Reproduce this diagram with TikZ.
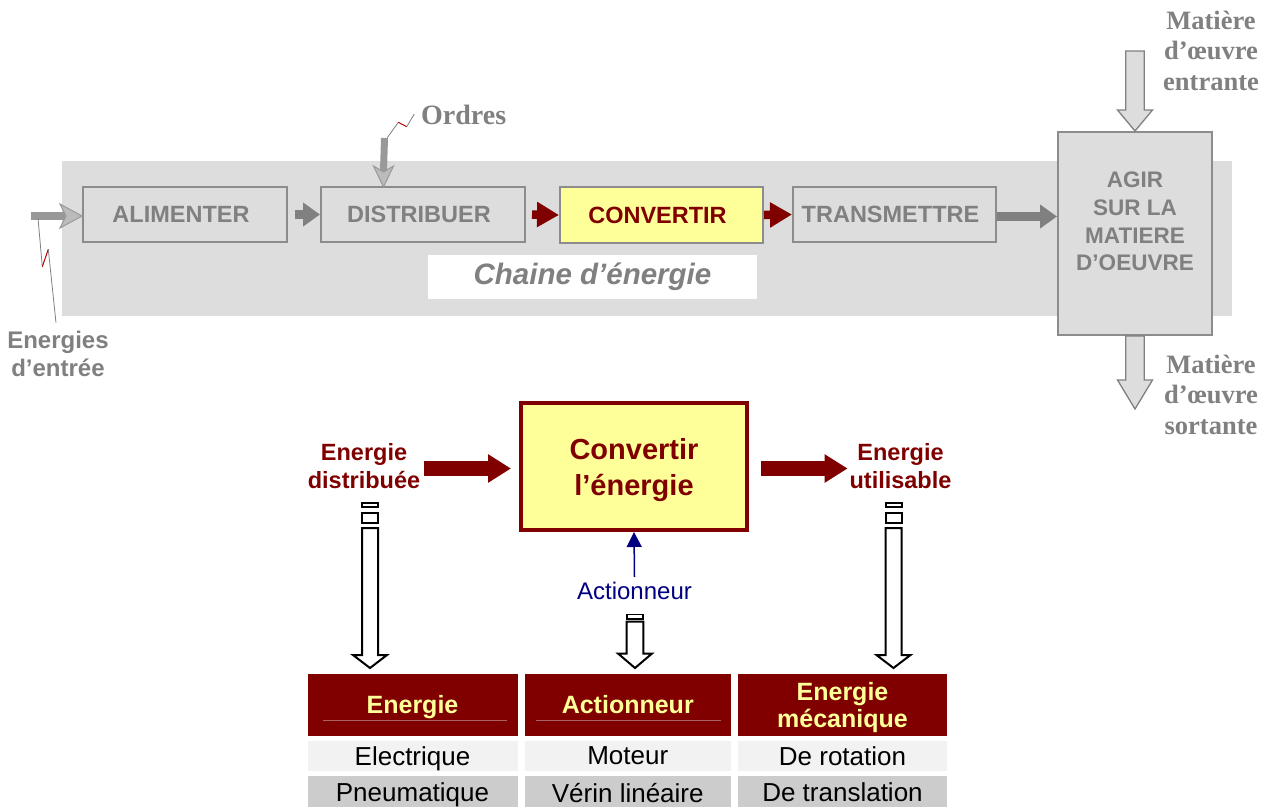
\documentclass[tikz,border=0pt]{standalone}
\usepackage{fontspec}
\setmainfont{Liberation Sans}
\newfontfamily\serifbf{Liberation Serif}
\usetikzlibrary{arrows.meta,calc}
\definecolor{bgc}{HTML}{DDDDDD}
\definecolor{txtgray}{HTML}{808080}
\definecolor{boxgray}{HTML}{8C8C8C}
\definecolor{dred}{HTML}{800000}
\definecolor{lyel}{HTML}{FFFF99}
\definecolor{navyc}{HTML}{000080}
\definecolor{row1c}{HTML}{F2F2F2}
\definecolor{row2c}{HTML}{CCCCCC}
\definecolor{headline}{HTML}{A86464}
\definecolor{arrgray}{HTML}{999999}
\definecolor{headgray}{HTML}{BBBBBB}
\definecolor{lred}{HTML}{B00000}
% hollow down arrow: #1 top-centre coordinate, #2 shaft half width, #3 shaft length, #4 head half width, #5 head length, #6 style
\newcommand\hollowdn[6]{%
  \draw[#6] (#1) ++({-#2},0) -- ++({2*#2},0) -- ++(0,#3) -- ++({#4-#2},0)
     -- ++({-#4},#5) -- ++({-#4},{-#5}) -- ++({#4-#2},0) -- cycle;}
\begin{document}
\begin{tikzpicture}[x=1pt,y=-1pt,
 chainbox/.style={draw=boxgray, line width=2pt, minimum width=204pt, minimum height=55pt, inner sep=0pt,
   font=\fontsize{23.5}{27}\selectfont\bfseries, text=txtgray, execute at end node={\hspace*{8pt}}},
 gtext/.style={text=txtgray, font=\fontsize{24}{28}\selectfont\bfseries, align=center, inner sep=0pt},
 stext/.style={text=txtgray, font=\fontsize{26.5}{30.5}\selectfont\serifbf\bfseries, align=center, inner sep=0pt},
 rtext/.style={text=dred, font=\fontsize{23.5}{28}\selectfont\bfseries, align=center, inner sep=0pt},
 garrow/.style={draw=txtgray, line width=9pt, -{Triangle[length=17pt,width=23pt]}},
 rarrow/.style={draw=dred, line width=8.5pt, -{Triangle[length=22pt,width=24pt]}},
 bigrarrow/.style={draw=dred, line width=15pt, -{Triangle[length=23pt,width=27pt]}},
 hollow/.style={draw=black, fill=white, line width=2pt, line join=miter},
 mhollow/.style={draw=txtgray, fill=bgc, line width=1.3pt, line join=miter},
 callout/.style={draw=txtgray, line width=0.8pt},
 callred/.style={draw=lred, line width=1pt},
 hdr/.style={fill=dred, inner sep=0pt, minimum height=61.7pt},
 hdrtxt/.style={text=lyel, font=\fontsize{25}{27.4}\selectfont\bfseries, align=center, inner sep=0pt, text depth=0pt},
 rowa/.style={fill=row1c, font=\fontsize{26}{30}\selectfont, inner sep=0pt, minimum height=30.3pt},
 rowb/.style={fill=row2c, font=\fontsize{26}{30}\selectfont, inner sep=0pt, minimum height=31pt},
 celltxt/.style={font=\fontsize{26}{30}\selectfont, inner sep=0pt, text depth=0pt},
]
\useasboundingbox (0,0) rectangle (1270,807);
% ---------- upper chain ----------
\fill[bgc] (62,161) rectangle (1232,316);
\node[fill=white, minimum width=329pt, minimum height=44pt, inner sep=0pt, text=txtgray,
      font=\fontsize{29.5}{32}\selectfont\bfseries\itshape] (chaine) at (592.5,277) {Chaine d’énergie};

\node[chainbox] (alim) at (185,214.5) {ALIMENTER};
\node[chainbox] (dist) at (423,214.5) {DISTRIBUER};
\node[chainbox, fill=lyel, text=dred, minimum width=203pt, minimum height=56pt] (conv) at (661.5,215) {CONVERTIR};
\node[chainbox, minimum width=203pt] (trans) at (894.5,214.5) {TRANSMETTRE};
\node[draw=boxgray, fill=bgc, line width=2pt, minimum width=154pt, minimum height=203pt, inner sep=0pt] (agir) at (1135,233.5) {};
\node[gtext, font=\fontsize{22.5}{27.7}\selectfont\bfseries] (agirtxt) at ($(agir.center)+(0,-12)$) {AGIR\\SUR LA\\MATIERE\\D’OEUVRE};

\draw[garrow] ($(alim.east)+(7,0)$) -- (dist.west);
\draw[rarrow] ($(dist.east)+(6,0)$) -- (conv.west);
\draw[rarrow] (conv.east) -- (trans.west);
\draw[garrow] ($(trans.east)+(0,2)$) -- ($(trans.east -| agir.west)+(0,2)$);

% input energy arrow
\coordinate (etip) at ($(alim.west)+(0,1.5)$);
\coordinate (ein) at (31,216);
\draw[draw=arrgray, line width=8pt] (ein) -- ($(etip)+(-14,0)$);
\draw[fill=headgray, draw=arrgray, line width=1pt, line join=miter]
  (etip) -- ++(-22,-12) -- ++(6,12) -- ++(-6,12) -- cycle;
\node[gtext] (elbl) at (58,354) {Energies\\d’entrée};
\coordinate (c1) at (42.3,266.7);
\coordinate (c2) at (48.3,249.3);
\draw[callout] (38,218) -- (c1);
\draw[callred] (c1) -- (c2);
\draw[callout] (c2) -- (56,322.7);

% ordres arrow
\coordinate (otip) at ($(dist.north west)+(63.5,1)$);
\draw[draw=arrgray, line width=7pt] (384.5,138) -- ($(otip)+(0,-16)$);
\draw[fill=headgray, draw=arrgray, line width=1pt, line join=miter]
  (otip) -- ++(-10,-21) -- ++(10,6) -- ++(10,-6) -- cycle;
\node[stext, font=\fontsize{28}{32}\selectfont\serifbf\bfseries, anchor=west] (ordres) at (421,115) {Ordres};
\coordinate (o1) at (398.3,122.3);
\coordinate (o2) at (406.7,126.7);
\draw[callout] (387.3,137.7) -- (o1);
\draw[callred] (o1) -- (o2);
\draw[callout] (o2) -- (414.3,114);

% matiere arrows
\coordinate (min) at ($(agir.north)+(0,-80)$);
\hollowdn{min}{9.25}{59}{17.5}{21}{mhollow}
\coordinate (mout) at (agir.south);
\hollowdn{mout}{9.25}{44}{17.5}{29}{mhollow}
\node[stext] (mtop) at (1211,50.5) {Matière\\d’œuvre\\entrante};
\node[stext] (mbot) at (1211,394.5) {Matière\\d’œuvre\\sortante};

% ---------- lower part ----------
\node[draw=dred, fill=lyel, line width=4pt, minimum width=226pt, minimum height=127pt, text depth=0pt,
      text=dred, font=\fontsize{29}{36}\selectfont\bfseries, align=center] (cv) at (634,466.5) {Convertir\\l’énergie};
\node[rtext] (edist) at (364,466) {Energie\\distribuée};
\node[rtext] (eutil) at (900.5,466) {Energie\\utilisable};
\draw[bigrarrow] ($(cv.west)+(-95,2)$) -- ($(cv.west)+(-8,2)$);
\draw[bigrarrow] ($(cv.east)+(12,2)$) -- ($(cv.east)+(98.6,2)$);

\node[text=navyc, font=\fontsize{24}{28}\selectfont, inner sep=0pt] (actlbl) at (634.5,591) {Actionneur};
\draw[navyc, line width=1.5pt, -{Triangle[length=15pt,width=15pt]}] ($(actlbl.north)+(0,-5)$) -- (cv.south);

% hollow arrows
\draw[line width=2pt] (362,502.5) rectangle (378,507);
\draw[line width=2pt] (362,512.5) rectangle (378,523);
\coordinate (hl) at (370,528);
\hollowdn{hl}{8}{127}{17}{13}{hollow}

\draw[line width=1.8pt] (626.7,614.5) rectangle (643.3,619);
\coordinate (hm) at (635,621.5);
\hollowdn{hm}{8.3}{32}{17}{14.5}{hollow}

\draw[line width=2pt] (885.5,502.5) rectangle (901.5,507);
\draw[line width=2pt] (885.5,512.5) rectangle (901.5,523);
\coordinate (hr) at (893.5,528);
\hollowdn{hr}{8}{127}{17}{13}{hollow}

% table
\node[hdr, minimum width=210pt] (h1) at (412.5,704.85) {};
\node[hdr, minimum width=205.5pt] (h2) at (627.75,704.85) {};
\node[hdr, minimum width=209pt] (h3) at (842.5,704.85) {};
\draw[headline, line width=1pt] ($(h1.south west)+(15.5,-15)$) -- ($(h1.south east)+(-10.5,-15)$);
\draw[headline, line width=1pt] ($(h2.south west)+(11,-15)$) -- ($(h2.south east)+(-9.5,-15)$);
\node[hdrtxt] (h1t) at (h1.center) {Energie};
\node[hdrtxt] (h2t) at (h2.center) {Actionneur};
\node[hdrtxt] (h3t) at (h3.center) {Energie\\mécanique};

\node[rowa, minimum width=210pt] (r11) at (412.5,755.85) {};
\node[rowa, minimum width=205.5pt] (r12) at (627.75,755.85) {};
\node[rowa, minimum width=209pt] (r13) at (842.5,755.85) {};
\node[rowb, minimum width=210pt] (r21) at (412.5,791.5) {};
\node[rowb, minimum width=205.5pt] (r22) at (627.75,791.5) {};
\node[rowb, minimum width=209pt] (r23) at (842.5,791.5) {};
\node[celltxt] at (r11.center) {Electrique};
\node[celltxt] at (r12.center) {Moteur};
\node[celltxt] at (r13.center) {De rotation};
\node[celltxt] at ($(r21.center)+(0,1)$) {Pneumatique};
\node[celltxt] at ($(r22.center)+(0,1)$) {Vérin linéaire};
\node[celltxt] at ($(r23.center)+(0,1)$) {De translation};
\end{tikzpicture}
\end{document}
